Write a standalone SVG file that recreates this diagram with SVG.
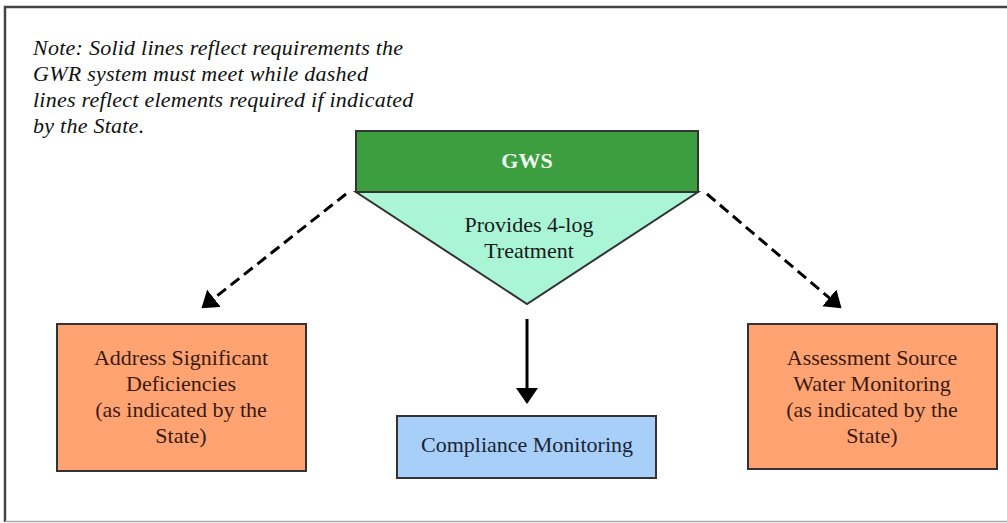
<svg xmlns="http://www.w3.org/2000/svg" width="1007" height="523" viewBox="0 0 1007 523">
<defs>
<style>
.t{font-family:"Liberation Serif","Times New Roman",serif;font-size:22px;text-anchor:middle}
.note{font-family:"Liberation Serif","Times New Roman",serif;font-size:22px;font-style:italic;letter-spacing:0.25px;fill:#111}
.box{stroke:#333;stroke-width:2}
.dash{stroke:#000;stroke-width:3;stroke-dasharray:11 6;fill:none}
.solid{stroke:#000;stroke-width:3;fill:none}
</style>
<marker id="ah" viewBox="0 0 16 22" refX="14" refY="11" markerWidth="16" markerHeight="22" markerUnits="userSpaceOnUse" orient="auto">
<path d="M0,0 L16,11 L0,22 z" fill="#000"/>
</marker>
</defs>
<rect width="1007" height="523" fill="#fff"/>
<g id="frame">
<path d="M5,522 L5,7 L1007,7" fill="none" stroke="#444" stroke-width="2.5"/>
<path d="M5,521.5 L1007,521.5" fill="none" stroke="#aaa" stroke-width="1.5"/>
</g>
<g id="note">
<text class="note" x="33" y="55">Note: Solid lines reflect requirements the</text>
<text class="note" x="33" y="81">GWR system must meet while dashed</text>
<text class="note" x="33" y="107">lines reflect elements required if indicated</text>
<text class="note" x="33" y="133">by the State.</text>
</g>
<g id="connectors">
<line class="dash" x1="346" y1="194" x2="203" y2="307" marker-end="url(#ah)"/>
<line class="dash" x1="707" y1="194" x2="840" y2="307" marker-end="url(#ah)"/>
<line class="solid" x1="527" y1="319" x2="527" y2="402" marker-end="url(#ah)"/>
</g>
<g id="treatment">
<path class="box" d="M356,192 L698,192 L527,304 z" fill="#a9f5d6"/>
<text class="t" x="529" y="232" fill="#1a1a1a" font-size="21.5">Provides 4-log</text>
<text class="t" x="529" y="258" fill="#1a1a1a" font-size="21.5">Treatment</text>
</g>
<g id="gws">
<rect class="box" x="356" y="131" width="342" height="61" fill="#3d9e40"/>
<text class="t" x="527" y="168" fill="#eef8ee" font-weight="bold">GWS</text>
</g>
<g id="address">
<rect class="box" x="57" y="324" width="249" height="147" fill="#ffa373"/>
<text class="t" x="181" y="365" fill="#3a1a10">Address Significant</text>
<text class="t" x="181" y="391" fill="#3a1a10">Deficiencies</text>
<text class="t" x="181" y="417" fill="#3a1a10">(as indicated by the</text>
<text class="t" x="181" y="443" fill="#3a1a10">State)</text>
</g>
<g id="assessment">
<rect class="box" x="748" y="324" width="249" height="145" fill="#ffa373"/>
<text class="t" x="872" y="365" fill="#3a1a10">Assessment Source</text>
<text class="t" x="872" y="391" fill="#3a1a10">Water Monitoring</text>
<text class="t" x="872" y="417" fill="#3a1a10">(as indicated by the</text>
<text class="t" x="872" y="443" fill="#3a1a10">State)</text>
</g>
<g id="compliance">
<rect class="box" x="397" y="416" width="259" height="62" fill="#a8cff7"/>
<text class="t" x="527" y="452" fill="#1a2438" font-size="23">Compliance Monitoring</text>
</g>
</svg>
